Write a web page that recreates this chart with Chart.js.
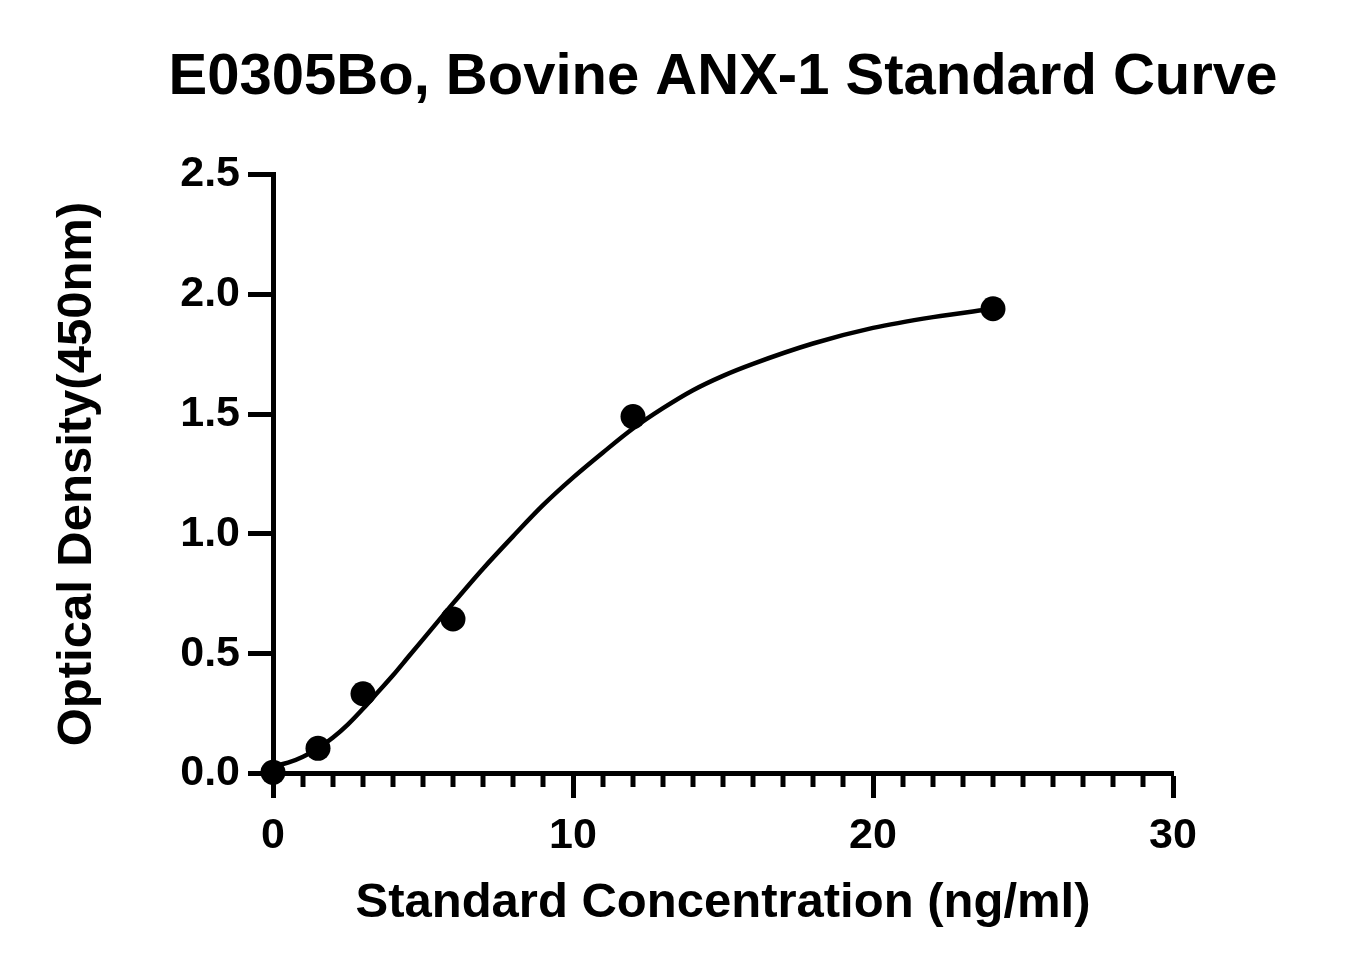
<!DOCTYPE html>
<html>
<head>
<meta charset="utf-8">
<script src="https://cdn.jsdelivr.net/npm/chart.js@4.4.1/dist/chart.umd.min.js"></script>
<style>
  html, body { margin: 0; padding: 0; background: #ffffff; }
  #wrap { width: 1350px; height: 975px; }
</style>
</head>
<body>
<div id="wrap"><canvas id="c" width="1350" height="975"></canvas></div>
<script>
// Standard points (concentration ng/ml, OD 450nm)
const concentrations = [0, 1.5, 3, 6, 12, 24];
const odValues = [0.005, 0.105, 0.333, 0.645, 1.49, 1.94];

// Fitted curve
const curveX = [0, 0.5, 1, 1.5, 2, 2.5, 3, 3.5, 4, 4.5, 5, 5.5, 6, 7, 8, 9, 10, 11, 12, 13, 14, 15, 16, 18, 20, 22, 24];
const curveY = [0.03, 0.045, 0.07, 0.105, 0.15, 0.205, 0.27, 0.34, 0.41, 0.485, 0.56, 0.635, 0.71, 0.855, 0.99, 1.12, 1.235, 1.34, 1.44, 1.525, 1.60, 1.66, 1.71, 1.795, 1.86, 1.905, 1.94];

const xTicksMajor = [0, 10, 20, 30];
const yTickLabels = ['0.0', '0.5', '1.0', '1.5', '2.0', '2.5'];

const titleText = 'E0305Bo, Bovine ANX-1 Standard Curve';
const xTitle = 'Standard Concentration (ng/ml)';
const yTitle = 'Optical Density(450nm)';

const FONT = '"Liberation Sans", Arial, Helvetica, sans-serif';

const pointData = concentrations.map((x, i) => ({ x: x, y: odValues[i] }));
const curveData = curveX.map((x, i) => ({ x: x, y: curveY[i] }));

const minorTicks = {
  id: 'minorTicks',
  afterDraw(chart) {
    const xs = chart.scales.x;
    const ctx = chart.ctx;
    ctx.save();
    ctx.strokeStyle = '#000';
    ctx.lineWidth = 5;
    const y0 = xs.top;
    for (let v = xs.min; v <= xs.max; v += 1) {
      if (xTicksMajor.includes(v)) continue;
      const px = xs.getPixelForValue(v);
      ctx.beginPath();
      ctx.moveTo(px, y0);
      ctx.lineTo(px, y0 + 13.5);
      ctx.stroke();
    }
    ctx.restore();
  }
};

new Chart(document.getElementById('c'), {
  type: 'scatter',
  data: {
    datasets: [
      {
        label: 'Standards',
        data: pointData,
        showLine: false,
        pointRadius: 12.5,
        pointHoverRadius: 12.5,
        pointBackgroundColor: '#000',
        pointBorderColor: '#000',
        pointBorderWidth: 0,
        clip: false
      },
      {
        label: 'Fit',
        type: 'line',
        data: curveData,
        borderColor: '#000',
        borderWidth: 4.5,
        pointRadius: 0,
        fill: false,
        cubicInterpolationMode: 'monotone',
        clip: false
      }
    ]
  },
  options: {
    responsive: false,
    animation: false,
    devicePixelRatio: 1,
    layout: { padding: { left: 96, right: 0, top: 0, bottom: 0 } },
    plugins: {
      legend: { display: false },
      tooltip: { enabled: false },
      title: {
        display: true,
        text: titleText,
        fullSize: true,
        color: '#000',
        font: { family: FONT, size: 58, weight: 'bold' },
        padding: { top: 43, bottom: 62 }
      }
    },
    scales: {
      x: {
        type: 'linear',
        min: 0, max: 30,
        afterFit(scale) { scale.height = 201.5; },
        border: { display: true, color: '#000', width: 5 },
        grid: { display: true, drawOnChartArea: false, drawTicks: true, tickLength: 24.5,
                tickWidth: 5,
                tickColor: (ctx) => (ctx.tick && xTicksMajor.includes(ctx.tick.value)) ? '#000' : 'rgba(0,0,0,0)' },
        ticks: {
          stepSize: 1, autoSkip: false, maxRotation: 0, padding: 12,
          color: '#000',
          font: { family: FONT, size: 43, weight: 'bold' },
          callback: (v) => xTicksMajor.includes(v) ? String(v) : ''
        },
        title: {
          display: true, text: xTitle, color: '#000',
          font: { family: FONT, size: 49, weight: 'bold' },
          padding: { top: 0, bottom: 42 }
        }
      },
      y: {
        type: 'linear',
        position: 'left',
        min: 0, max: 2.5,
        afterFit(scale) { scale.width = 177; },
        border: { display: true, color: '#000', width: 5 },
        grid: { display: true, drawOnChartArea: false, drawTicks: true, tickLength: 25, tickWidth: 5, tickColor: '#000' },
        ticks: {
          stepSize: 0.5, padding: 8, color: '#000',
          font: { family: FONT, size: 43, weight: 'bold' },
          callback: (v) => yTickLabels[Math.round(v / 0.5)]
        },
        title: {
          display: true, text: yTitle, color: '#000',
          font: { family: FONT, size: 49, weight: 'bold' },
          padding: { top: -48.4, bottom: 0 }
        }
      },
      yRight: {
        type: 'linear',
        position: 'right',
        min: 0, max: 2.5,
        afterFit(scale) { scale.width = 177; },
        border: { display: false },
        grid: { display: false, drawTicks: false },
        ticks: { display: false },
        title: { display: false }
      }
    }
  },
  plugins: [minorTicks]
});
</script>
</body>
</html>
